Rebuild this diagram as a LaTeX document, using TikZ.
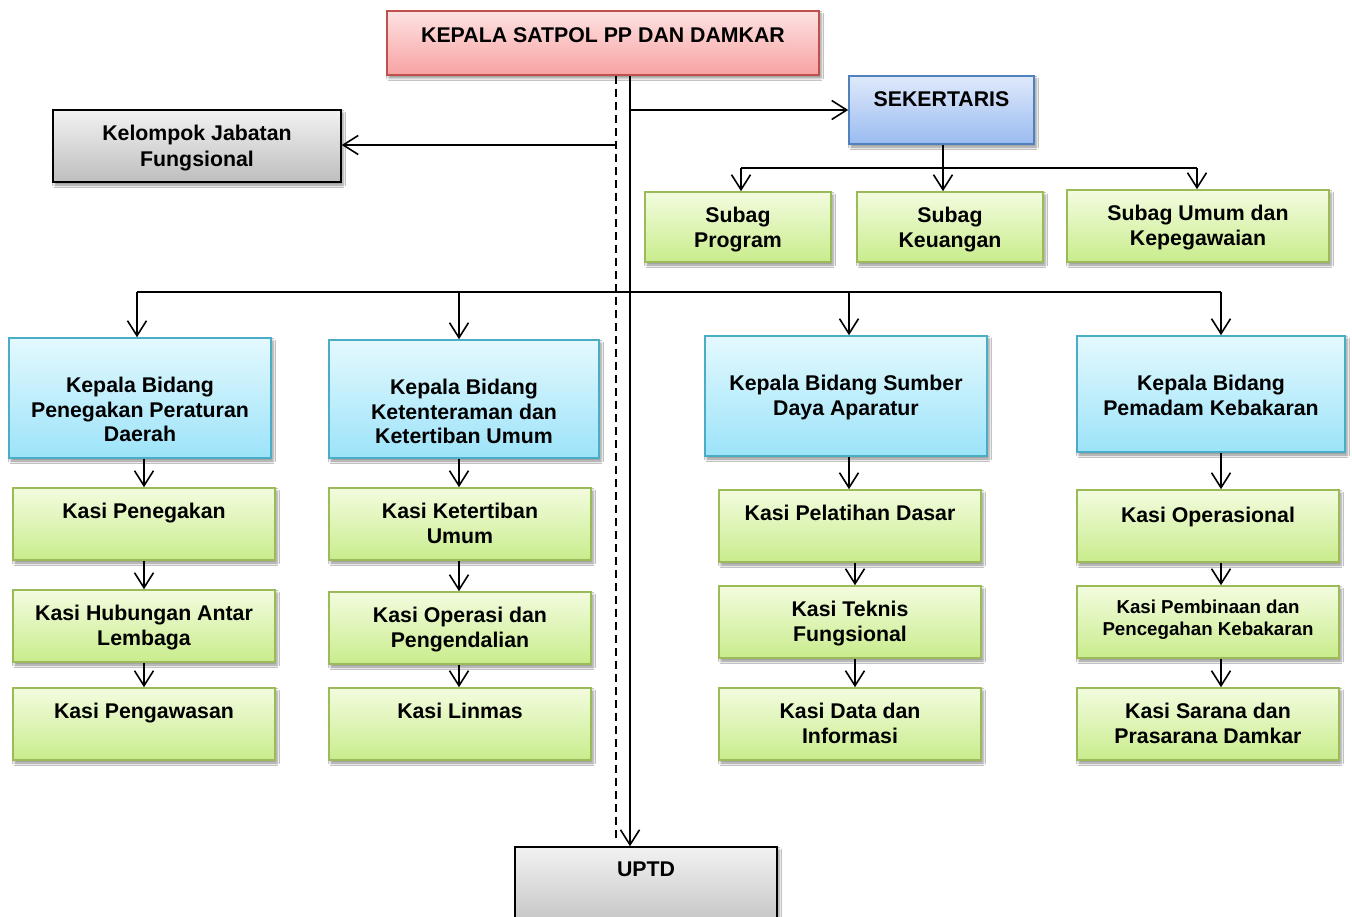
\documentclass[tikz,border=0pt]{standalone}
\usepackage{fontspec}
\setmainfont{Liberation Sans}
\usetikzlibrary{arrows.meta, shadows.blur, calc}
\definecolor{grnB}{HTML}{9BBB59}
\definecolor{grnT}{HTML}{F3FCDF}
\definecolor{grnL}{HTML}{C9EC8C}
\definecolor{cyB}{HTML}{4BACC6}
\definecolor{cyT}{HTML}{E4F9FE}
\definecolor{cyL}{HTML}{9CE3F9}
\definecolor{rdB}{HTML}{C0504D}
\definecolor{rdT}{HTML}{FDE2E2}
\definecolor{rdL}{HTML}{F8A2A2}
\definecolor{blB}{HTML}{4F81BD}
\definecolor{blT}{HTML}{DFE9FB}
\definecolor{blL}{HTML}{9ABBF1}
\definecolor{gyT}{HTML}{F2F2F2}
\definecolor{gyL}{HTML}{BEBEBE}
\begin{document}
\begin{tikzpicture}[x=1pt, y=-1pt,
  ln/.style={line width=1.6pt, draw=black},
  arr/.style={ln, -{Straight Barb[length=15pt, width=19pt]}},
  dline/.style={line width=1.6pt, dash pattern=on 8pt off 5pt},
  boxbase/.style={rectangle, inner sep=0pt, line width=1.6pt,
    blur shadow={shadow xshift=2pt, shadow yshift=-3pt, shadow blur radius=2.5pt, shadow opacity=45}},
  gbox/.style={boxbase, draw=grnB, top color=grnT, bottom color=grnL},
  cbox/.style={boxbase, draw=cyB, top color=cyT, bottom color=cyL},
  rbox/.style={boxbase, draw=rdB, top color=rdT, bottom color=rdL},
  bbox/.style={boxbase, draw=blB, top color=blT, bottom color=blL},
  ybox/.style={boxbase, draw=black, line width=1.4pt, top color=gyT, bottom color=gyL},
  txt/.style={inner sep=0pt, anchor=north, align=center, font=\fontsize{21.3}{24.5}\selectfont\bfseries},
  stxt/.style={inner sep=0pt, anchor=north, align=center, font=\fontsize{18.7}{22}\selectfont\bfseries},
]
\useasboundingbox (0,0) rectangle (1352,917);
\fill[white] (0,0) rectangle (1352,917);

% column coordinates
\coordinate (tx) at (630,0);
\coordinate (dx) at (616,0);
\coordinate (c1t) at (137,0);
\coordinate (c1) at (144,0);
\coordinate (c2) at (459,0);
\coordinate (c3) at (849,0);
\coordinate (c3b) at (855,0);
\coordinate (c4) at (1221,0);
\coordinate (sp x) at (741,0);
\coordinate (su x) at (1197,0);
\coordinate (sbar) at (943,168);
\coordinate (bar) at (630,292);

% boxes
\node[rbox, minimum width=432pt, minimum height=64pt] (kep) at (603,43) {};
\node[bbox, minimum width=185pt, minimum height=68pt] (sek) at (941.5,110) {};
\node[ybox, minimum width=288pt, minimum height=72pt] (kel) at (197,146) {};
\node[gbox, minimum width=186pt, minimum height=70pt] (sp) at (738,227) {};
\node[gbox, minimum width=186pt, minimum height=70pt] (sk) at (950,227) {};
\node[gbox, minimum width=262pt, minimum height=72pt] (su) at (1198,226) {};
\node[cbox, minimum width=262pt, minimum height=120pt] (b1) at (140,398) {};
\node[cbox, minimum width=270pt, minimum height=118pt] (b2) at (464,399) {};
\node[cbox, minimum width=282pt, minimum height=120pt] (b3) at (846,396) {};
\node[cbox, minimum width=268pt, minimum height=116pt] (b4) at (1211,394) {};
\node[gbox, minimum width=262pt, minimum height=72pt] (k11) at (144,524) {};
\node[gbox, minimum width=262pt, minimum height=72pt] (k12) at (144,626) {};
\node[gbox, minimum width=262pt, minimum height=72pt] (k13) at (144,724) {};
\node[gbox, minimum width=262pt, minimum height=72pt] (k21) at (460,524) {};
\node[gbox, minimum width=262pt, minimum height=72pt] (k22) at (460,628) {};
\node[gbox, minimum width=262pt, minimum height=72pt] (k23) at (460,724) {};
\node[gbox, minimum width=262pt, minimum height=72pt] (k31) at (850,526) {};
\node[gbox, minimum width=262pt, minimum height=72pt] (k32) at (850,622) {};
\node[gbox, minimum width=262pt, minimum height=72pt] (k33) at (850,724) {};
\node[gbox, minimum width=262pt, minimum height=72pt] (k41) at (1208,526) {};
\node[gbox, minimum width=262pt, minimum height=72pt] (k42) at (1208,622) {};
\node[gbox, minimum width=262pt, minimum height=72pt] (k43) at (1208,724) {};
\node[ybox, minimum width=262pt, minimum height=88pt] (uptd) at (646,891) {};

% texts
\node[txt] (tkep) at (603,27) {KEPALA SATPOL PP DAN DAMKAR};
\node[txt] (tsek) at (941.5,91) {SEKERTARIS};
\node[txt, font=\fontsize{21.3}{26}\selectfont\bfseries] (tkel) at (197,125) {Kelompok Jabatan\\Fungsional};
\node[txt] (tsp) at (738,207) {Subag\\Program};
\node[txt] (tsk) at (950,207) {Subag\\Keuangan};
\node[txt] (tsu) at (1198,205) {Subag Umum dan\\Kepegawaian};
\node[txt] (tb1) at (140,377) {Kepala Bidang\\Penegakan Peraturan\\Daerah};
\node[txt] (tb2) at (464,379) {Kepala Bidang\\Ketenteraman dan\\Ketertiban Umum};
\node[txt] (tb3) at (846,375) {Kepala Bidang Sumber\\Daya Aparatur};
\node[txt] (tb4) at (1211,375) {Kepala Bidang\\Pemadam Kebakaran};
\node[txt] (tk11) at (144,503) {Kasi Penegakan};
\node[txt] (tk12) at (144,605) {Kasi Hubungan Antar\\Lembaga};
\node[txt] (tk13) at (144,703) {Kasi Pengawasan};
\node[txt] (tk21) at (460,503) {Kasi Ketertiban\\Umum};
\node[txt] (tk22) at (460,607) {Kasi Operasi dan\\Pengendalian};
\node[txt] (tk23) at (460,703) {Kasi Linmas};
\node[txt] (tk31) at (850,505) {Kasi Pelatihan Dasar};
\node[txt] (tk32) at (850,601) {Kasi Teknis\\Fungsional};
\node[txt] (tk33) at (850,703) {Kasi Data dan\\Informasi};
\node[txt] (tk41) at (1208,507) {Kasi Operasional};
\node[stxt] (tk42) at (1208,600) {Kasi Pembinaan dan\\Pencegahan Kebakaran};
\node[txt] (tk43) at (1208,703) {Kasi Sarana dan\\Prasarana Damkar};
\node[txt] (tuptd) at (646,862) {UPTD};

% connectors
\draw[arr] (kep.south -| tx) -- (uptd.north -| tx);
\draw[dline] (kep.south -| dx) -- ($(uptd.north -| dx)+(0,-7)$);
\draw[arr] (sek.west -| tx) -- (sek.west);
\draw[arr] ($(kel.east -| dx)+(0,-1)$) -- ($(kel.east)+(0,-1)$);

\draw[ln] (sbar -| sp x) -- (sbar -| su x);
\draw[arr] (sek.south -| sbar) -- (sk.north -| sbar);
\draw[arr] (sbar -| sp x) -- (sp.north -| sp x);
\draw[arr] (sbar -| su x) -- (su.north -| su x);

\draw[ln] (bar -| c1t) -- (bar -| c4);
\draw[arr] (bar -| c1t) -- (b1.north -| c1t);
\draw[arr] (bar -| c2) -- (b2.north -| c2);
\draw[arr] (bar -| c3) -- (b3.north -| c3);
\draw[arr] (bar -| c4) -- (b4.north -| c4);

\draw[arr] (b1.south -| c1) -- (k11.north -| c1);
\draw[arr] (k11.south -| c1) -- (k12.north -| c1);
\draw[arr] (k12.south -| c1) -- (k13.north -| c1);
\draw[arr] (b2.south -| c2) -- (k21.north -| c2);
\draw[arr] (k21.south -| c2) -- (k22.north -| c2);
\draw[arr] (k22.south -| c2) -- (k23.north -| c2);
\draw[arr] (b3.south -| c3) -- (k31.north -| c3);
\draw[arr] (k31.south -| c3b) -- (k32.north -| c3b);
\draw[arr] (k32.south -| c3b) -- (k33.north -| c3b);
\draw[arr] (b4.south -| c4) -- (k41.north -| c4);
\draw[arr] (k41.south -| c4) -- (k42.north -| c4);
\draw[arr] (k42.south -| c4) -- (k43.north -| c4);
\end{tikzpicture}
\end{document}
